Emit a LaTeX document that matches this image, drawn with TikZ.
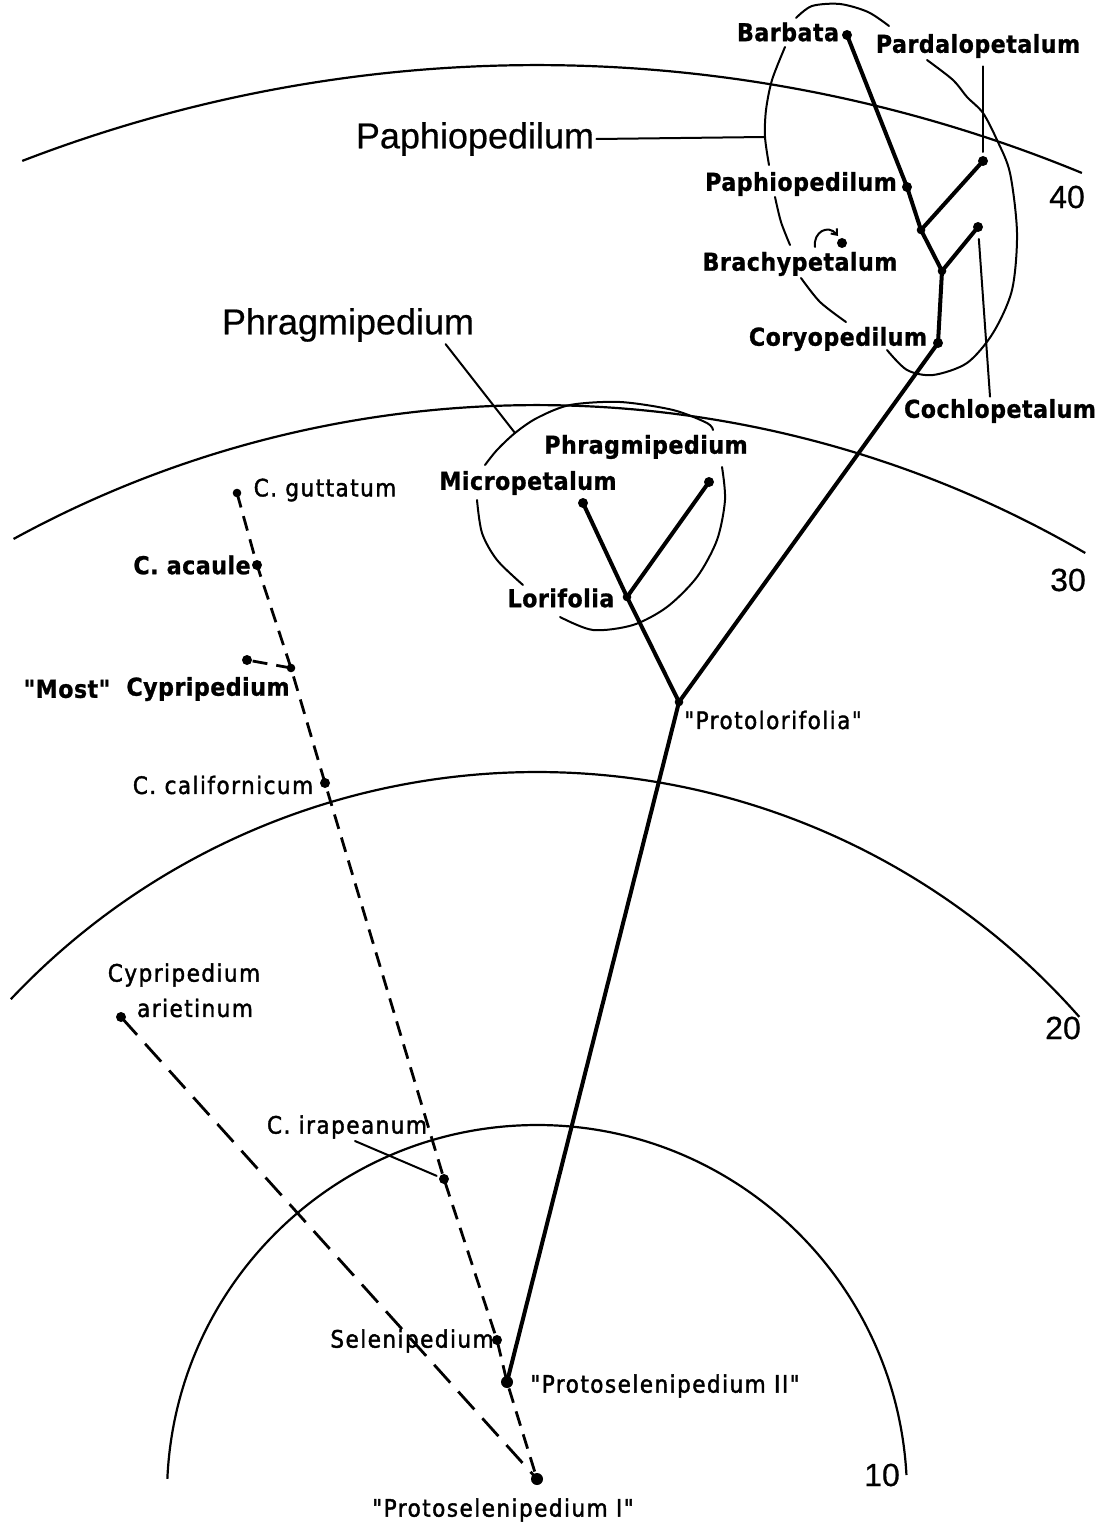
\documentclass[tikz,border=0pt]{standalone}
\usepackage{fontspec}
\setmainfont{DejaVu Sans}
\newfontfamily\lrf[LetterSpace=6,FakeStretch=0.9,FakeBold=1.6]{DejaVu Sans}
\newfontfamily\lbf[LetterSpace=2,FakeStretch=0.9,FakeBold=1]{DejaVu Sans Bold}
\newfontfamily\bgf[FakeBold=0.5]{Liberation Sans}
\usetikzlibrary{calc,arrows.meta}
\begin{document}
\begin{tikzpicture}[x=0.5pt,y=-0.5pt,
  tree/.style={line width=2pt,line cap=round},
  thin/.style={line width=1pt,line cap=round},
  arcl/.style={line width=1.1pt},
  dsh/.style={line width=1.4pt,dash pattern=on 7.5pt off 4.5pt},
  ldsh/.style={line width=1.4pt,dash pattern=on 12pt off 6pt},
  bl/.style={font=\lbf\fontsize{12.3}{14}\selectfont,inner sep=1pt},
  rl/.style={font=\lrf\fontsize{12}{14}\selectfont,inner sep=1pt},
  big/.style={font=\bgf\fontsize{18}{20}\selectfont,inner sep=1pt},
  num/.style={font=\bgf\fontsize{16}{18}\selectfont,inner sep=1pt}]
\useasboundingbox (0,0) rectangle (1100,1530);
% concentric arcs
\coordinate (O) at (537,1495);
\draw[arcl] (O) ++(-3.1:370) arc[start angle=-3.1,end angle=-177.5,radius=370];
\draw[arcl] (O) ++(-41.4:723) arc[start angle=-41.4,end angle=-136.7,radius=723];
\draw[arcl] (O) ++(-59.8:1090) arc[start angle=-59.8,end angle=-118.7,radius=1090];
\draw[arcl] (O) ++(-67.6:1430) arc[start angle=-67.6,end angle=-111.1,radius=1430];
\node[num] (n40) at (1067,197) {40};
\node[num] (n30) at (1068,580) {30};
\node[num] (n20) at (1063,1028) {20};
\node[num] (n10) at (882,1475) {10};
% points
\coordinate (barb) at (847,35);
\coordinate (paph) at (907,187);
\coordinate (jA) at (921,230);
\coordinate (pard) at (983,161);
\coordinate (jB) at (942,271);
\coordinate (coch) at (978,227);
\coordinate (cory) at (938,343);
\coordinate (plor) at (679,702);
\coordinate (micro) at (583,503);
\coordinate (phrag) at (709,482);
\coordinate (lori) at (627,597);
\coordinate (ps2) at (507,1382);
\coordinate (ps1) at (537,1479);
\coordinate (gutt) at (237,493);
\coordinate (acau) at (257,565);
\coordinate (cypj) at (291,668);
\coordinate (cyps) at (247,660);
\coordinate (cali) at (325,783);
\coordinate (irap) at (444,1179);
\coordinate (sele) at (497,1340);
\coordinate (arie) at (121,1017);
\coordinate (brach) at (842,243);
\coordinate (ePaph) at (765,137);
\coordinate (ePhrag) at (515,433);
% group outlines
\draw[thin] plot[smooth] coordinates {(796,18) (812,6) (840,4) (868,12) (889,26)};
\draw[thin] plot[smooth] coordinates {(785,47) (772,80) (766,110) (765,137) (769,165)};
\draw[thin] plot[smooth] coordinates {(775,197) (781,222) (790,245)};
\draw[thin] plot[smooth] coordinates {(801,278) (820,302) (846,322)};
\draw[thin] plot[smooth] coordinates {(887,350) (907,370) (933,375) (967,363) (993,333) (1012,290) (1017,233) (1010,173) (997,140) (983,113) (967,97) (953,80) (927,60)};
\draw[thin] plot[smooth] coordinates {(485,465) (497,450) (515,433) (537,418) (570,405) (620,402) (673,410) (707,423) (713,430)};
\draw[thin] plot[smooth] coordinates {(722,467) (725,500) (717,540) (697,577) (667,607) (633,625) (593,630) (560,617)};
\draw[thin] plot[smooth] coordinates {(477,500) (482,533) (497,560) (523,585)};
% tree
\draw[tree] (barb) -- (paph) -- (jA) -- (jB) -- (cory) -- (plor) -- (ps2);
\draw[tree] (jA) -- (pard);
\draw[tree] (jB) -- (coch);
\draw[tree] (micro) -- (lori) -- (plor);
\draw[tree] (lori) -- (phrag);
\draw[dsh] (gutt) -- (acau) -- (cypj) -- (cali) -- (irap) -- (sele) -- (ps2) -- (ps1);
\draw[dsh] (cypj) -- (cyps);
\draw[ldsh] (arie) -- (ps1);
% dots
\foreach \p in {barb,paph,pard,coch,cory,micro,phrag,acau,cyps,cali,irap,sele,arie,brach}
  \fill (\p) circle[radius=5];
\foreach \p in {jA,jB,lori,plor,cypj,gutt}
  \fill (\p) circle[radius=4.3];
\fill (ps2) circle[radius=6];
\fill (ps1) circle[radius=6];
\draw[thin,-{Straight Barb[length=2.5pt,width=4pt]}] (815,247) .. controls (813,232) and (828,224) .. (838,236);
% labels
\node[bl] (Lbarb) at (788,32) {Barbata};
\node[bl] (Lpard) at (978,46) {Pardalopetalum};
\node[bl] (Lpaph) at (801,184) {Paphiopedilum};
\node[bl] (Lbrach) at (800,264) {Brachypetalum};
\node[bl] (Lcory) at (838,339) {Coryopedilum};
\node[bl] (Lcoch) at (1000,411) {Cochlopetalum};
\node[bl] (Lphrag) at (646,447) {Phragmipedium};
\node[bl] (Lmicro) at (528,483) {Micropetalum};
\node[bl] (Llori) at (561,598) {Lorifolia};
\node[rl] (Lplor) at (773,720) {"Protolorifolia"};
\node[rl] (Lgutt) at (325,490) {C. guttatum};
\node[bl] (Lacau) at (192,565) {C. acaule};
\node[bl] (Lmost) at (67,689) {"Most"};
\node[bl] (Lcyp) at (208,689) {Cypripedium};
\node[rl] (Lcali) at (223,785) {C. californicum};
\node[rl] (Lcar1) at (184,975) {Cypripedium};
\node[rl] (Lcar2) at (195,1008) {arietinum};
\node[rl] (Lirap) at (347,1127) {C. irapeanum};
\node[rl] (Lsele) at (412,1341) {Selenipedium};
\node[rl] (Lps2) at (665,1386) {"Protoselenipedium II"};
\node[rl] (Lps1) at (503,1510) {"Protoselenipedium I"};
\node[big] (Bpaph) at (475,139) {Paphiopedilum};
\node[big] (Bphrag) at (348,325) {Phragmipedium};
% pointers
\draw[thin] (Bpaph.east) -- (ePaph);
\draw[thin] ($(Bphrag.south)!0.76!(Bphrag.south east)$) -- (ePhrag);
\draw[thin,shorten <=3pt,shorten >=4.5pt] ([xshift=2.5pt]Lpard.south) -- (pard);
\draw[thin,shorten >=6pt] ([xshift=-5pt]Lcoch.north) -- (coch);
\draw[thin,shorten >=4pt] ([xshift=4pt]Lirap.south) -- (irap);
\end{tikzpicture}
\end{document}
